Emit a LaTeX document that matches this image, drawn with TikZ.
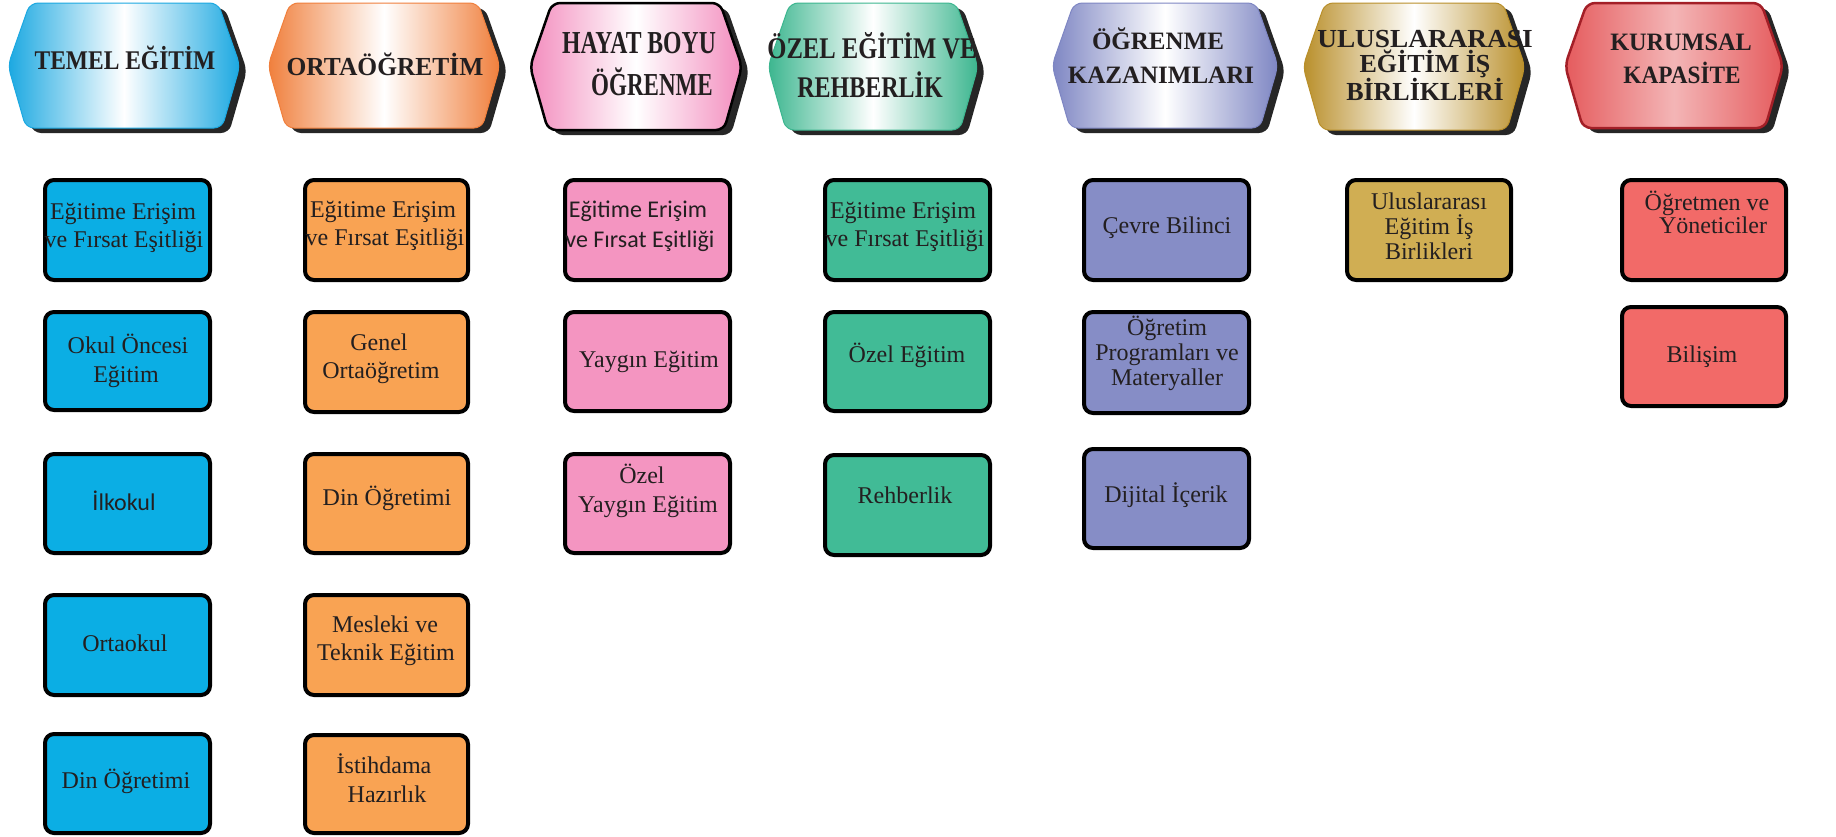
\documentclass[tikz,border=0pt]{standalone}
\usepackage{fontspec}
\setmainfont{Liberation Serif}
\newfontfamily\sansf{Carlito}
\usepackage{graphicx}
\definecolor{txt}{HTML}{231F20}
\definecolor{hblue}{HTML}{1BA8E1}
\definecolor{horange}{HTML}{F07F3C}
\definecolor{hpink}{HTML}{F38DBE}
\definecolor{hgreen}{HTML}{3CB68F}
\definecolor{hpurple}{HTML}{7E86C3}
\definecolor{hgold}{HTML}{B98F2A}
\definecolor{hred}{HTML}{E55B5D}
\definecolor{hredline}{HTML}{A31F27}
\definecolor{bblue}{HTML}{0BAEE4}
\definecolor{borange}{HTML}{F9A353}
\definecolor{bpink}{HTML}{F495C1}
\definecolor{bgreen}{HTML}{41BB96}
\definecolor{bpurple}{HTML}{868DC6}
\definecolor{bgold}{HTML}{D0AE53}
\definecolor{bred}{HTML}{F26A68}
\newcommand\hdrshape[5]{%
  \fill[black!85, rounded corners=8pt] (#1+22+7,#3+5) -- (#2-22+7,#3+5) -- (#2+7,{(#3+#4)/2+5}) -- (#2-18+7,#4+5) -- (#1+18+7,#4+5) -- (#1+7,{(#3+#4)/2+5}) -- cycle;
  \path[rounded corners=8pt, #5] (#1+22,#3) -- (#2-22,#3) -- (#2,{(#3+#4)/2}) -- (#2-18,#4) -- (#1+18,#4) -- (#1,{(#3+#4)/2}) -- cycle;
}
\newcommand\hsz[3]{\fontsize{#1}{#1}\selectfont\scalebox{#2}[1]{#3}}
\newcommand\bx[6]{%
  \node[boxst, fill=#6, minimum width={#4-#2-4}, minimum height={#5-#3-4}] (#1) at ({(#2+#4)/2},{(#3+#5)/2}) {};
}
\tikzset{
  boxst/.style={draw=black, line width=4pt, rounded corners=9pt, inner sep=0pt},
  ht/.style={font=\bfseries, text=txt, anchor=base, inner sep=0pt},
  bt/.style={font=\fontsize{24}{24}\selectfont, text=txt, anchor=base, inner sep=0pt},
  st/.style={font=\sansf\fontsize{24}{24}\selectfont, text=txt, anchor=base, inner sep=0pt},
}
\begin{document}
\begin{tikzpicture}[x=1pt,y=-1pt]
\useasboundingbox (0,0) rectangle (1836,836);
\fill[white] (0,0) rectangle (1836,836);

% headers
\hdrshape{8}{240}{3}{128}{left color=hblue, right color=hblue, middle color=white, draw=hblue, line width=1pt}
\node[ht] (h1) at (125,69) {\hsz{27}{0.87}{TEMEL EĞİTİM}};

\hdrshape{268}{500}{3}{128}{left color=horange, right color=horange, middle color=white, draw=horange, line width=1pt}
\node[ht] (h2) at (385,75) {\hsz{26}{0.98}{ORTAÖĞRETİM}};

\hdrshape{530}{742}{3}{130}{left color=hpink, right color=hpink, middle color=white, draw=black, line width=2.5pt}
\node[ht] (h3a) at (639,53) {\hsz{32}{0.74}{HAYAT BOYU}};
\node[ht] (h3b) at (652,95) {\hsz{32}{0.72}{ÖĞRENME}};

\hdrshape{768}{978}{3}{130}{left color=hgreen, right color=hgreen, middle color=white, draw=hgreen, line width=1pt}
\node[ht] (h4a) at (872,58) {\hsz{30}{0.82}{ÖZEL EĞİTİM VE}};
\node[ht] (h4b) at (870,97) {\hsz{30}{0.80}{REHBERLİK}};

\hdrshape{1052}{1278}{3}{128}{left color=hpurple, right color=hpurple, middle color=white, draw=hpurple, line width=1pt}
\node[ht] (h5a) at (1158,49) {\hsz{25}{1}{ÖĞRENME}};
\node[ht] (h5b) at (1161,83) {\hsz{25}{1}{KAZANIMLARI}};

\hdrshape{1303}{1525}{3}{130}{left color=hgold, right color=hgold, middle color=white, draw=hgold, line width=1pt}
\node[ht] (h6a) at (1425,47) {\hsz{26}{1.05}{ULUSLARARASI}};
\node[ht] (h6b) at (1425,72) {\hsz{26}{1}{EĞİTİM İŞ}};
\node[ht] (h6c) at (1425,100) {\hsz{26}{1}{BİRLİKLERİ}};

\hdrshape{1565}{1783}{3}{128}{left color=hred, right color=hred, middle color=hred!45!white, draw=hredline, line width=2.5pt}
\node[ht] (h7a) at (1681,50) {\hsz{25}{0.97}{KURUMSAL}};
\node[ht] (h7b) at (1682,83) {\hsz{25}{0.93}{KAPASİTE}};

% column 1
\bx{b11}{43}{178}{212}{282}{bblue}
\bx{b12}{43}{310}{212}{412}{bblue}
\bx{b13}{43}{452}{212}{555}{bblue}
\bx{b14}{43}{593}{212}{697}{bblue}
\bx{b15}{43}{732}{212}{835}{bblue}
\node[bt] (t11a) at (123,219) {Eğitime Erişim};
\node[bt] (t11b) at (124,247) {ve Fırsat Eşitliği};
\node[bt] (t12a) at (128,353) {Okul Öncesi};
\node[bt] (t12b) at (126,382) {Eğitim};
\node[st] (t13) at (124,510) {İlkokul};
\node[bt] (t14) at (125,651) {Ortaokul};
\node[bt] (t15) at (126,788) {Din Öğretimi};

% column 2
\bx{b21}{303}{178}{470}{282}{borange}
\bx{b22}{303}{310}{470}{414}{borange}
\bx{b23}{303}{452}{470}{555}{borange}
\bx{b24}{303}{593}{470}{697}{borange}
\bx{b25}{303}{733}{470}{835}{borange}
\node[bt] (t21a) at (383,217) {Eğitime Erişim};
\node[bt] (t21b) at (385,245) {ve Fırsat Eşitliği};
\node[bt] (t22a) at (379,350) {Genel};
\node[bt] (t22b) at (381,378) {Ortaöğretim};
\node[bt] (t23) at (387,505) {Din Öğretimi};
\node[bt] (t24a) at (385,632) {Mesleki ve};
\node[bt] (t24b) at (386,660) {Teknik Eğitim};
\node[bt] (t25a) at (384,773) {İstihdama};
\node[bt] (t25b) at (387,802) {Hazırlık};

% column 3
\bx{b31}{563}{178}{732}{282}{bpink}
\bx{b32}{563}{310}{732}{413}{bpink}
\bx{b33}{563}{452}{732}{555}{bpink}
\node[st] (t31a) at (638,217) {Eğitime Erişim};
\node[st] (t31b) at (640,247) {ve Fırsat Eşitliği};
\node[bt] (t32) at (649,367) {Yaygın Eğitim};
\node[bt] (t33a) at (642,483) {Özel};
\node[bt] (t33b) at (648,512) {Yaygın Eğitim};

% column 4
\bx{b41}{823}{178}{992}{282}{bgreen}
\bx{b42}{823}{310}{992}{413}{bgreen}
\bx{b43}{823}{453}{992}{557}{bgreen}
\node[bt] (t41a) at (903,218) {Eğitime Erişim};
\node[bt] (t41b) at (905,246) {ve Fırsat Eşitliği};
\node[bt] (t42) at (907,362) {Özel Eğitim};
\node[bt] (t43) at (905,503) {Rehberlik};

% column 5
\bx{b51}{1082}{178}{1251}{282}{bpurple}
\bx{b52}{1082}{310}{1251}{415}{bpurple}
\bx{b53}{1082}{447}{1251}{550}{bpurple}
\node[bt] (t51) at (1167,233) {Çevre Bilinci};
\node[bt] (t52a) at (1167,335) {Öğretim};
\node[bt] (t52b) at (1167,360) {Programları ve};
\node[bt] (t52c) at (1167,385) {Materyaller};
\node[bt] (t53) at (1166,502) {Dijital İçerik};

% column 6
\bx{b61}{1345}{178}{1513}{282}{bgold}
\node[bt] (t61a) at (1429,209) {Uluslararası};
\node[bt] (t61b) at (1429,234) {Eğitim İş};
\node[bt] (t61c) at (1429,259) {Birlikleri};

% column 7
\bx{b71}{1620}{178}{1788}{282}{bred}
\bx{b72}{1620}{305}{1788}{408}{bred}
\node[bt] (t71a) at (1707,210) {Öğretmen ve};
\node[bt] (t71b) at (1713,233) {Yöneticiler};
\node[bt] (t72) at (1702,362) {Bilişim};
\end{tikzpicture}
\end{document}
